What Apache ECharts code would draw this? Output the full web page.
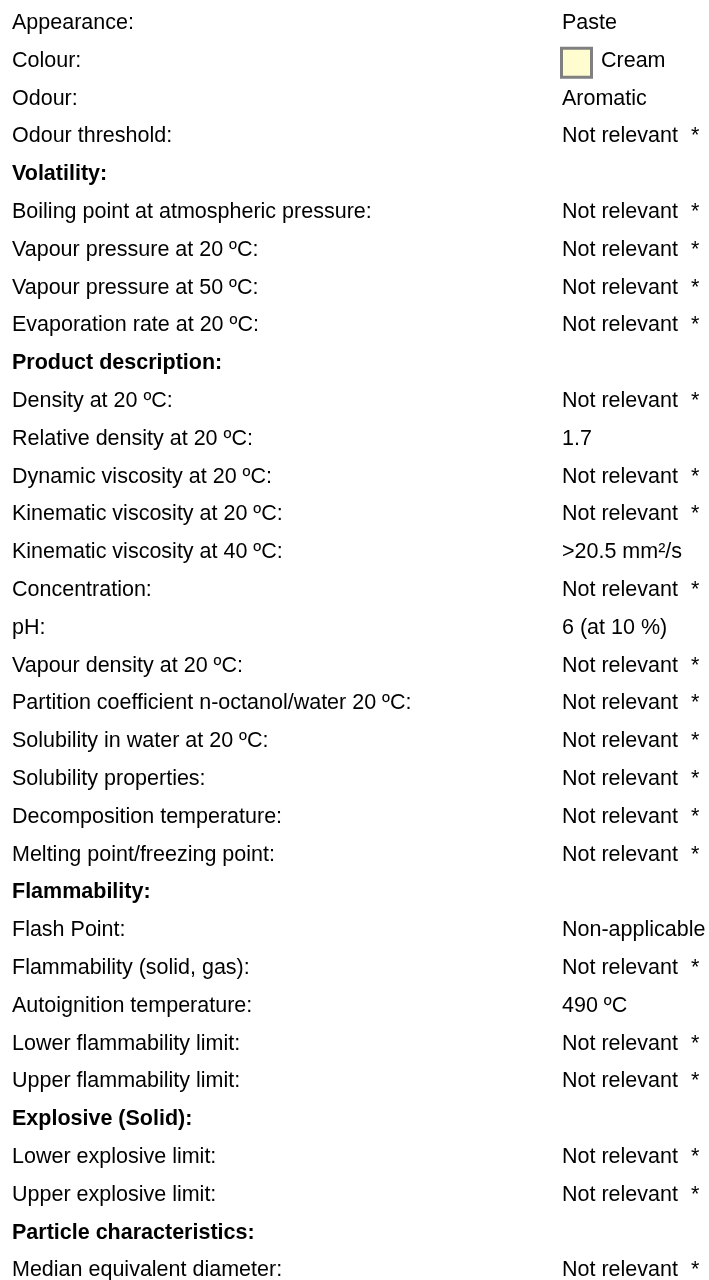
<!DOCTYPE html>
<html>
<head>
<meta charset="utf-8">
<script src="https://cdn.jsdelivr.net/npm/echarts@6/dist/echarts.min.js"></script>
<style>
html,body{margin:0;padding:0;background:#fff;}
#chart{width:709px;height:1280px;}
</style>
</head>
<body>
<div id="chart"></div>
<script>
const labels = [
  "Appearance:", "Colour:", "Odour:", "Odour threshold:", "Volatility:",
  "Boiling point at atmospheric pressure:", "Vapour pressure at 20 ºC:", "Vapour pressure at 50 ºC:",
  "Evaporation rate at 20 ºC:", "Product description:", "Density at 20 ºC:", "Relative density at 20 ºC:",
  "Dynamic viscosity at 20 ºC:", "Kinematic viscosity at 20 ºC:", "Kinematic viscosity at 40 ºC:",
  "Concentration:", "pH:", "Vapour density at 20 ºC:", "Partition coefficient n-octanol/water 20 ºC:",
  "Solubility in water at 20 ºC:", "Solubility properties:", "Decomposition temperature:",
  "Melting point/freezing point:", "Flammability:", "Flash Point:", "Flammability (solid, gas):",
  "Autoignition temperature:", "Lower flammability limit:", "Upper flammability limit:",
  "Explosive (Solid):", "Lower explosive limit:", "Upper explosive limit:",
  "Particle characteristics:", "Median equivalent diameter:"
];
const values = [
  "Paste", "Cream", "Aromatic", "Not relevant", "",
  "Not relevant", "Not relevant", "Not relevant",
  "Not relevant", "", "Not relevant", "1.7",
  "Not relevant", "Not relevant", ">20.5 mm²/s",
  "Not relevant", "6 (at 10 %)", "Not relevant", "Not relevant",
  "Not relevant", "Not relevant", "Not relevant",
  "Not relevant", "", "Non-applicable", "Not relevant",
  "490 ºC", "Not relevant", "Not relevant",
  "", "Not relevant", "Not relevant",
  "", "Not relevant"
];
const headers = [4, 9, 23, 29, 32];
const swatchRows = [1];
const swatchColours = ["#FFFDD0"];

const FONT = '"Liberation Sans", Arial, sans-serif';
const SIZE = 21.5;
const PITCH = 37.8;
const BASE = 23;
const LX = 12, VX = 562, AX = 691;

const elements = [];
labels.forEach((lab, i) => {
  const y = BASE + i * PITCH;
  const bold = headers.indexOf(i) >= 0;
  elements.push({
    type: 'text', x: LX, y: y,
    style: { text: lab, fill: '#000', font: (bold ? 'bold ' : '') + SIZE + 'px ' + FONT, verticalAlign: 'middle', align: 'left' }
  });
  const v = values[i];
  if (v) {
    const sIdx = swatchRows.indexOf(i);
    let vx = VX;
    if (sIdx >= 0) {
      elements.push({
        type: 'rect', shape: { x: 561.5, y: y - 12.5, width: 30, height: 29 },
        style: { fill: swatchColours[sIdx], stroke: '#808080', lineWidth: 3 }
      });
      vx = 601;
    }
    elements.push({
      type: 'text', x: vx, y: y,
      style: { text: v, fill: '#000', font: SIZE + 'px ' + FONT, verticalAlign: 'middle', align: 'left' }
    });
    if (v === 'Not relevant') {
      elements.push({
        type: 'text', x: AX, y: y,
        style: { text: '*', fill: '#000', font: SIZE + 'px ' + FONT, verticalAlign: 'middle', align: 'left' }
      });
    }
  }
});

const chart = echarts.init(document.getElementById('chart'), null, { renderer: 'canvas' });
chart.setOption({
  backgroundColor: '#ffffff',
  animation: false,
  graphic: { elements: elements }
});
</script>
</body>
</html>
